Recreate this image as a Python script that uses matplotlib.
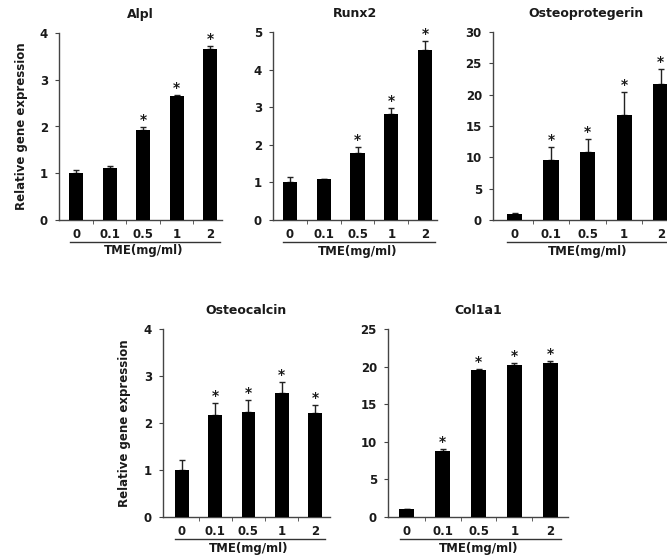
import matplotlib
matplotlib.use('Agg')
from matplotlib import pyplot as plt
from matplotlib import transforms
import numpy as np

plt.rcParams.update({'font.family': ['DejaVu Sans'],
                     'font.weight': 'bold',
                     'axes.linewidth': 1.0})

doses = ['0', '0.1', '0.5', '1', '2']

alpl = [1.00, 1.12, 1.92, 2.65, 3.65]
alpl_err = [0.06, 0.03, 0.07, 0.03, 0.08]

runx2 = [1.01, 1.08, 1.79, 2.83, 4.53]
runx2_err = [0.14, 0.02, 0.15, 0.15, 0.22]

opg = [0.96, 9.6, 10.8, 16.8, 21.7]
opg_err = [0.1, 2.1, 2.1, 3.7, 2.4]

ocn = [1.01, 2.18, 2.23, 2.63, 2.22]
ocn_err = [0.20, 0.24, 0.26, 0.25, 0.16]

col1a1 = [1.0, 8.8, 19.5, 20.2, 20.5]
col1a1_err = [0.1, 0.2, 0.2, 0.3, 0.3]

W, H = 667, 558
axis_col = '#444444'
text_col = '#1a1a1a'

# (title, values, errors, ymax, ystep, pixel box [left, right, top, bottom], xlim, ylabel?, stars)
panels = [
    ('Alpl', alpl, alpl_err, 4, 1, [59, 222, 33, 220], (-0.52, 4.36), True, [0, 0, 1, 1, 1]),
    ('Runx2', runx2, runx2_err, 5, 1, [273, 437, 32, 220], (-0.5, 4.35), False, [0, 0, 1, 1, 1]),
    ('Osteoprotegerin', opg, opg_err, 30, 5, [493, 679, 32, 220], (-0.59, 4.5), False, [0, 1, 1, 1, 1]),
    ('Osteocalcin', ocn, ocn_err, 4, 1, [163, 330, 329, 517], (-0.57, 4.45), True, [0, 1, 1, 1, 1]),
    ('Col1a1', col1a1, col1a1_err, 25, 5, [388, 568, 329, 517], (-0.53, 4.5), False, [0, 1, 1, 1, 1]),
]

fig = plt.figure(figsize=(W / 100, H / 100), dpi=100)

for title, vals, errs, ymax, ystep, box, xlim, has_ylabel, stars in panels:
    l, r, t, b = box
    ax = fig.add_axes([l / W, 1 - b / H, (r - l) / W, (b - t) / H])
    x = np.arange(len(doses))
    ax.bar(x, vals, width=0.42, color='black', zorder=3)
    ax.errorbar(x, vals, yerr=[np.zeros(len(errs)), errs], fmt='none',
                ecolor='#222222', elinewidth=1.0, capsize=2.5, capthick=1.0, zorder=2)
    for xi, v, e, s in zip(x, vals, errs, stars):
        if s:
            ax.annotate('*', (xi, v + e), xytext=(0, 0), textcoords='offset points',
                        ha='center', va='bottom', fontsize=10, color=text_col)

    ax.set_xlim(*xlim)
    ax.set_ylim(0, ymax)
    ax.set_yticks(np.arange(0, ymax + ystep / 2, ystep))
    ax.set_xticks(x)
    ax.set_xticklabels(doses)
    ax.set_xticks(x[:-1] + 0.5, minor=True)
    ax.tick_params(axis='x', which='major', length=0, pad=6, labelsize=8.5, colors=text_col)
    ax.tick_params(axis='x', which='minor', length=3, direction='out', color=axis_col)
    ax.tick_params(axis='y', length=3, direction='out', color=axis_col, labelsize=8.5,
                   labelcolor=text_col, pad=5)
    for lbl in ax.get_xticklabels() + ax.get_yticklabels():
        lbl.set_fontweight('bold')

    for side in ['top', 'right']:
        ax.spines[side].set_visible(False)
    for side in ['left', 'bottom']:
        ax.spines[side].set_color(axis_col)

    ax.set_title(title, fontsize=9, fontweight='bold', pad=11, color=text_col)
    if has_ylabel:
        ax.set_ylabel('Relative gene expression', fontsize=8.5, fontweight='bold', color=text_col)
        ax.yaxis.set_label_coords(-0.19, 0.5)

    # underline below the dose labels and the axis title
    trans = transforms.blended_transform_factory(ax.transData, ax.transAxes)
    ax.plot([-0.2, 4.3], [-0.118, -0.118], transform=trans, color='#333333', lw=1.0, clip_on=False)
    ax.text(2.0, -0.165, 'TME(mg/ml)', transform=trans, ha='center', va='center',
            fontsize=8.5, fontweight='bold', color=text_col)

fig.savefig('out.png', dpi=100)
